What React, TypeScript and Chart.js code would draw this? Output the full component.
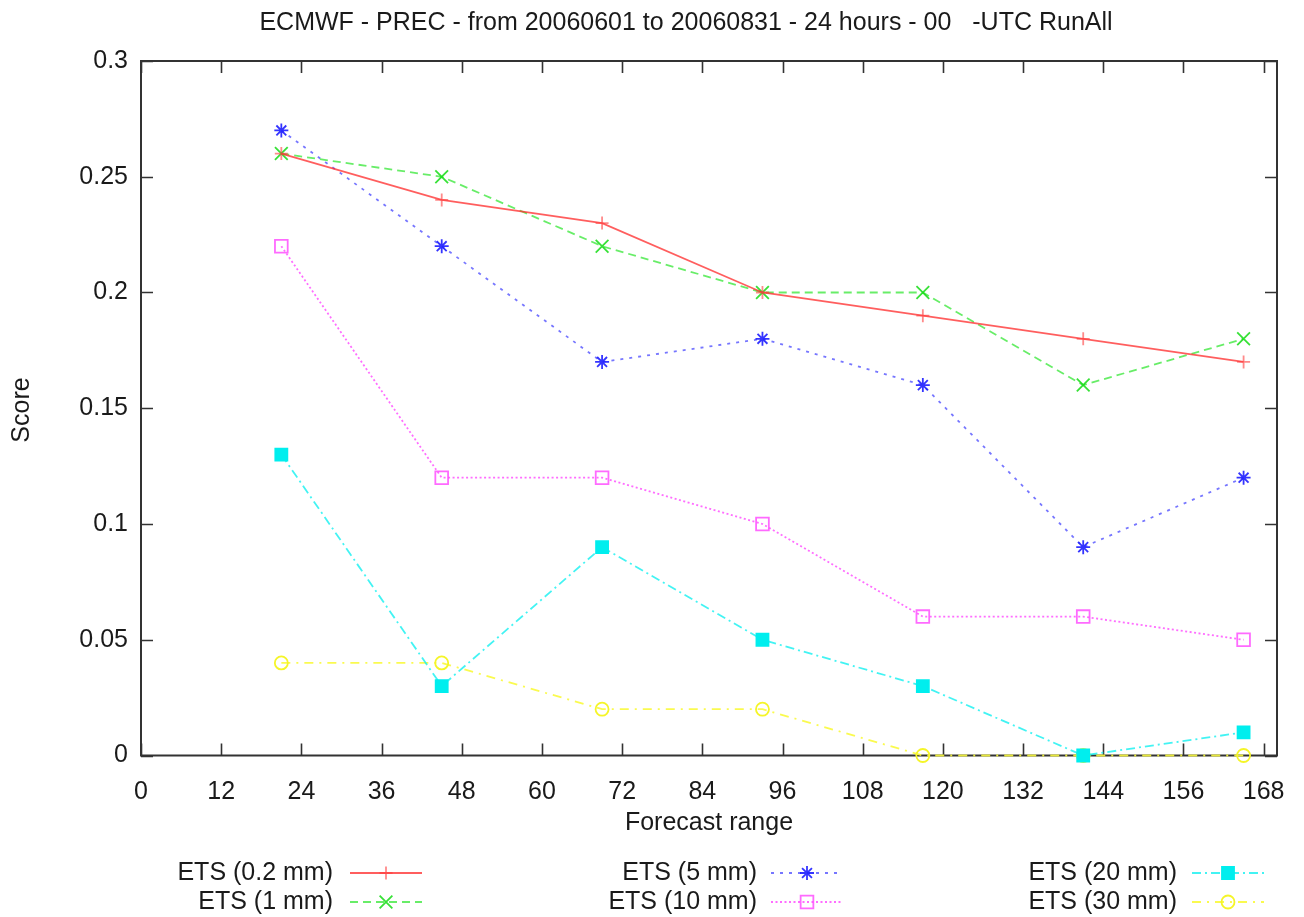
import React, { useEffect, useRef } from 'react';
import { Chart, registerables } from 'chart.js';
import { drawPoint } from 'chart.js/helpers';

Chart.register(...registerables);

const TITLE = 'ECMWF - PREC - from 20060601 to 20060831 - 24 hours - 00   -UTC RunAll';
const X_TITLE = 'Forecast range';
const Y_TITLE = 'Score';

const forecastHours = [21, 45, 69, 93, 117, 141, 165];
const xTickValues = [0, 12, 24, 36, 48, 60, 72, 84, 96, 108, 120, 132, 144, 156, 168];
const yTickValues = [0, 0.05, 0.1, 0.15, 0.2, 0.25, 0.3];
const yTickLabels = ['0', '0.05', '0.1', '0.15', '0.2', '0.25', '0.3'];

const seriesLabels = ['ETS (0.2 mm)', 'ETS (1 mm)', 'ETS (5 mm)', 'ETS (10 mm)', 'ETS (20 mm)', 'ETS (30 mm)'];
const ets02mm = [0.26, 0.24, 0.23, 0.2, 0.19, 0.18, 0.17];
const ets1mm = [0.26, 0.25, 0.22, 0.2, 0.2, 0.16, 0.18];
const ets5mm = [0.27, 0.22, 0.17, 0.18, 0.16, 0.09, 0.12];
const ets10mm = [0.22, 0.12, 0.12, 0.1, 0.06, 0.06, 0.05];
const ets20mm = [0.13, 0.03, 0.09, 0.05, 0.03, 0.0, 0.01];
const ets30mm = [0.04, 0.04, 0.02, 0.02, 0.0, 0.0, 0.0];

const FONT = '"Liberation Sans", Arial, Helvetica, sans-serif';
const TEXT = '#1a1a1a';
const FS = 25;

const toPoints = (vals: number[]) => vals.map((v, i) => ({ x: forecastHours[i], y: v }));

// legend layout: [textRightX, sampleStartX, rowY]
const legendSlots = [
  [333, 350, 873],
  [333, 350, 902],
  [757, 771, 873],
  [757, 771, 902],
  [1177, 1192, 873],
  [1177, 1192, 902],
];

const gnuplotPlugin = {
  id: 'gnuplotDecor',
  beforeDatasetsDraw(chart: any) {
    const { ctx, chartArea: a, scales } = chart;
    ctx.save();
    ctx.strokeStyle = '#333';
    ctx.lineWidth = 2;
    ctx.setLineDash([]);
    ctx.strokeRect(a.left, a.top, a.right - a.left, a.bottom - a.top);
    ctx.lineWidth = 1.6;
    const tl = 12;
    ctx.beginPath();
    for (const v of xTickValues) {
      const x = Math.round(scales.x.getPixelForValue(v)) + 0.5;
      ctx.moveTo(x, a.bottom);
      ctx.lineTo(x, a.bottom - tl);
      ctx.moveTo(x, a.top);
      ctx.lineTo(x, a.top + tl);
    }
    for (const v of yTickValues) {
      const y = Math.round(scales.y.getPixelForValue(v)) + 0.5;
      ctx.moveTo(a.left, y);
      ctx.lineTo(a.left + tl, y);
      ctx.moveTo(a.right, y);
      ctx.lineTo(a.right - tl, y);
    }
    ctx.stroke();
    ctx.restore();
  },
  afterDraw(chart: any) {
    const { ctx, chartArea: a } = chart;
    ctx.save();
    ctx.fillStyle = TEXT;
    ctx.textBaseline = 'middle';
    ctx.textAlign = 'center';
    ctx.font = `${FS}px ${FONT}`;
    ctx.fillText(TITLE, 686, 23);
    ctx.fillText(X_TITLE, (a.left + a.right) / 2, 823);
    ctx.save();
    ctx.translate(22, 410);
    ctx.rotate(-Math.PI / 2);
    ctx.fillText(Y_TITLE, 0, 0);
    ctx.restore();

    // legend
    chart.data.datasets.forEach((ds: any, i: number) => {
      const [tx, sx, ry] = legendSlots[i];
      ctx.fillStyle = TEXT;
      ctx.textAlign = 'right';
      ctx.font = `${FS}px ${FONT}`;
      ctx.fillText(ds.label, tx, ry);
      const len = 72;
      ctx.strokeStyle = ds.borderColor;
      ctx.lineWidth = ds.borderWidth;
      ctx.setLineDash(ds.borderDash || []);
      ctx.beginPath();
      ctx.moveTo(sx, ry);
      ctx.lineTo(sx + len, ry);
      ctx.stroke();
      ctx.setLineDash([]);
      ctx.strokeStyle = ds.pointBorderColor;
      ctx.fillStyle = ds.pointBackgroundColor;
      ctx.lineWidth = ds.pointBorderWidth;
      drawPoint(ctx, { pointStyle: ds.pointStyle, radius: ds.pointRadius, borderWidth: ds.pointBorderWidth, rotation: 0 }, sx + len / 2, ry);
    });
    ctx.restore();
  },
};

function makeDataset(label: string, vals: number[], line: string, mark: string, fill: string, dash: number[], style: string, radius: number) {
  return {
    label,
    data: toPoints(vals),
    borderColor: line,
    borderWidth: 1.8,
    borderDash: dash,
    pointStyle: style,
    pointRadius: radius,
    pointHoverRadius: radius,
    pointBorderColor: mark,
    pointBackgroundColor: fill,
    pointBorderWidth: 1.8,
    tension: 0,
    fill: false,
    clip: false,
  };
}

export default function App() {
  const canvasRef = useRef<HTMLCanvasElement | null>(null);

  useEffect(() => {
    const canvas = canvasRef.current;
    if (!canvas) return;
    const chart = new Chart(canvas, {
      type: 'line',
      data: {
        datasets: [
          makeDataset(seriesLabels[0], ets02mm, 'rgba(255,40,40,0.75)', 'rgba(255,60,60,0.6)', 'transparent', [], 'cross', 6.5),
          makeDataset(seriesLabels[1], ets1mm, 'rgba(40,230,40,0.7)', 'rgba(20,220,20,0.85)', 'transparent', [8, 5], 'crossRot', 9),
          makeDataset(seriesLabels[2], ets5mm, 'rgba(60,60,255,0.7)', 'rgba(30,30,255,0.9)', 'transparent', [3, 6], 'star', 7),
          makeDataset(seriesLabels[3], ets10mm, 'rgba(255,60,255,0.75)', 'rgba(255,80,255,0.85)', 'transparent', [2, 2.5], 'rect', 9),
          makeDataset(seriesLabels[4], ets20mm, 'rgba(20,240,240,0.8)', 'rgb(0,238,238)', 'rgb(0,238,238)', [9, 4, 2, 4], 'rect', 8.5),
          makeDataset(seriesLabels[5], ets30mm, 'rgba(250,250,60,0.9)', 'rgb(245,245,40)', 'transparent', [9, 6, 2, 6], 'circle', 6.5),
        ],
      },
      options: {
        animation: false,
        responsive: true,
        maintainAspectRatio: false,
        layout: { padding: { top: 61, right: 27, left: 0, bottom: 0 } },
        plugins: {
          legend: { display: false },
          title: { display: false },
          tooltip: { enabled: false },
        },
        scales: {
          x: {
            type: 'linear',
            min: 0,
            max: 170,
            grid: { display: false },
            border: { display: false },
            afterBuildTicks: (s: any) => {
              s.ticks = xTickValues.map((v) => ({ value: v }));
            },
            afterFit: (s: any) => {
              s.height = 161.5;
            },
            ticks: {
              color: TEXT,
              font: { family: FONT, size: FS },
              padding: 14,
              maxRotation: 0,
              autoSkip: false,
            },
          },
          y: {
            type: 'linear',
            min: 0,
            max: 0.3,
            grid: { display: false },
            border: { display: false },
            afterBuildTicks: (s: any) => {
              s.ticks = yTickValues.map((v) => ({ value: v }));
            },
            afterFit: (s: any) => {
              s.width = 141;
            },
            ticks: {
              color: TEXT,
              font: { family: FONT, size: FS },
              padding: 5,
              autoSkip: false,
              callback: (v: any, i: number) => yTickLabels[i],
            },
          },
        },
      },
      plugins: [gnuplotPlugin],
    });
    return () => chart.destroy();
  }, []);

  return (
    <div style={{ position: 'absolute', left: 0, top: 0, width: 1304, height: 917, background: '#fff' }}>
      <canvas ref={canvasRef} />
    </div>
  );
}
